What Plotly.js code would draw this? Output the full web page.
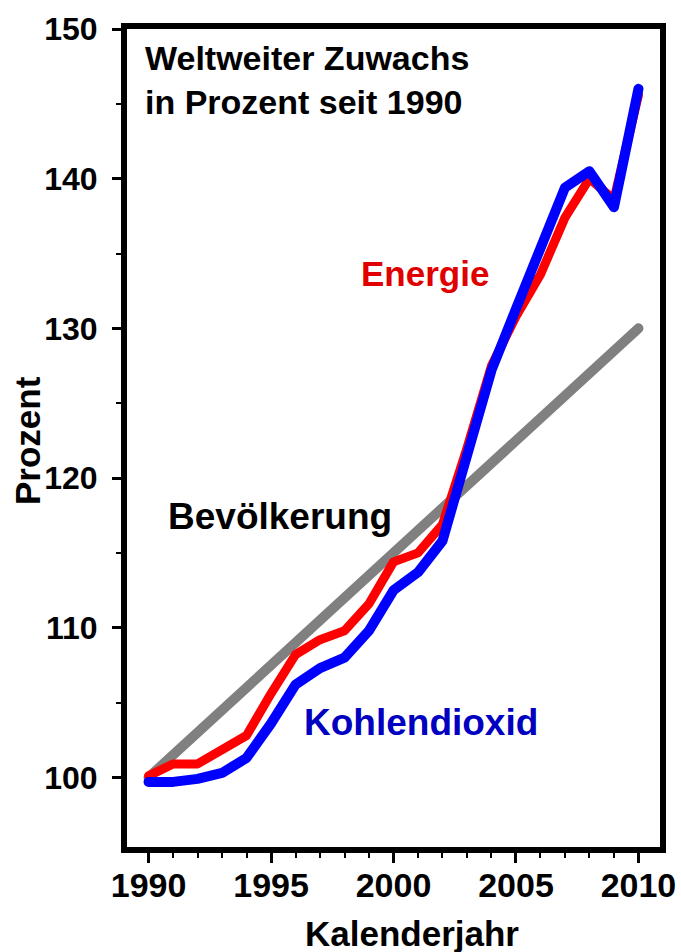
<!DOCTYPE html>
<html>
<head>
<meta charset="utf-8">
<script src="https://cdn.plot.ly/plotly-3.0.1.min.js"></script>
<style>
html,body{margin:0;padding:0;background:#fff;}
#chart{width:681px;height:952px;}
.js-line{stroke-linejoin:round;stroke-linecap:round;}
</style>
</head>
<body>
<div id="chart"></div>
<script>
// Years (x axis)
const years = [1990,1991,1992,1993,1994,1995,1996,1997,1998,1999,2000,
               2001,2002,2003,2004,2005,2006,2007,2008,2009,2010];
// Population growth (Bevölkerung), percent of 1990
const bevoelkerung = [100,101.5,103,104.5,106,107.5,109,110.5,112,113.5,115,
                      116.5,118,119.5,121,122.5,124,125.5,127,128.5,130];
// Energy (Energie), percent of 1990
const energie = [100.1,100.9,100.9,101.9,102.8,105.6,108.2,109.2,109.8,111.6,114.4,
                 115.0,116.9,122.0,127.5,130.8,133.6,137.4,140.0,138.6,145.6];
// Carbon dioxide (Kohlendioxid), percent of 1990
const kohlendioxid = [99.7,99.7,99.9,100.3,101.3,103.6,106.2,107.3,108.0,109.8,112.5,
                      113.7,115.8,121.4,127.2,131.3,135.2,139.4,140.5,138.1,146.0];
// Tick labels
const xTicks = [1990,1995,2000,2005,2010];
const yTicks = [100,110,120,130,140,150];

const FONT = 'Liberation Sans, Arial, sans-serif';

const traces = [
  {x: years, y: bevoelkerung, type: 'scatter', mode: 'lines', name: 'Bevölkerung',
   line: {color: '#808080', width: 10}, hoverinfo: 'skip'},
  {x: years, y: energie, type: 'scatter', mode: 'lines', name: 'Energie',
   line: {color: '#ff0000', width: 9}, hoverinfo: 'skip'},
  {x: years, y: kohlendioxid, type: 'scatter', mode: 'lines', name: 'Kohlendioxid',
   line: {color: '#0000ff', width: 10}, hoverinfo: 'skip'}
];

const layout = {
  width: 681, height: 952,
  margin: {l: 127, r: 21, t: 29, b: 105},
  paper_bgcolor: '#ffffff', plot_bgcolor: '#ffffff',
  showlegend: false,
  xaxis: {
    range: [1989.12, 2010.88],
    tickvals: xTicks, ticktext: xTicks.map(String),
    ticks: 'outside', ticklen: 10, tickwidth: 3, tickcolor: '#000',
    minor: {dtick: 1, tick0: 1989, ticks: 'outside', ticklen: 5, tickwidth: 2, tickcolor: '#000'},
    showline: true, linecolor: '#000', linewidth: 6, mirror: true,
    showgrid: false, zeroline: false,
    ticklabelstandoff: -7,
    tickfont: {family: FONT, size: 34, color: '#000', weight: 'bold'}
  },
  yaxis: {
    range: [95.35, 150.0],
    tickvals: yTicks, ticktext: yTicks.map(String),
    ticks: 'outside', ticklen: 9, tickwidth: 3, tickcolor: '#000',
    minor: {dtick: 5, tick0: 95, ticks: 'outside', ticklen: 5, tickwidth: 2, tickcolor: '#000'},
    showline: true, linecolor: '#000', linewidth: 6, mirror: true,
    showgrid: false, zeroline: false,
    ticklabelstandoff: 8,
    tickfont: {family: FONT, size: 32, color: '#000', weight: 'bold'}
  },
  annotations: [
    {text: 'Weltweiter Zuwachs<br>in Prozent seit 1990', xref: 'paper', yref: 'paper',
     x: 0.030, y: 0.9377, xanchor: 'left', yanchor: 'middle', align: 'left', showarrow: false,
     font: {family: FONT, size: 34, color: '#000', weight: 'bold'}},
    {text: 'Energie', xref: 'paper', yref: 'paper',
     x: 0.4362, y: 0.7005, xanchor: 'left', yanchor: 'middle', showarrow: false,
     font: {family: FONT, size: 35, color: '#e00000', weight: 'bold'}},
    {text: 'Bevölkerung', xref: 'paper', yref: 'paper',
     x: 0.0732, y: 0.4046, xanchor: 'left', yanchor: 'middle', showarrow: false,
     font: {family: FONT, size: 37, color: '#000', weight: 'bold'}},
    {text: 'Kohlendioxid', xref: 'paper', yref: 'paper',
     x: 0.3283, y: 0.1528, xanchor: 'left', yanchor: 'middle', showarrow: false,
     font: {family: FONT, size: 37, color: '#0000c0', weight: 'bold'}},
    {text: 'Kalenderjahr', xref: 'paper', yref: 'paper',
     x: 0.5347, y: -0.1061, xanchor: 'center', yanchor: 'middle', showarrow: false,
     font: {family: FONT, size: 35, color: '#000', weight: 'bold'}},
    {text: 'Prozent', xref: 'paper', yref: 'paper', textangle: -90,
     x: -0.1876, y: 0.4963, xanchor: 'center', yanchor: 'middle', showarrow: false,
     font: {family: FONT, size: 35, color: '#000', weight: 'bold'}}
  ]
};

Plotly.newPlot('chart', traces, layout, {staticPlot: true, displayModeBar: false});
</script>
</body>
</html>
